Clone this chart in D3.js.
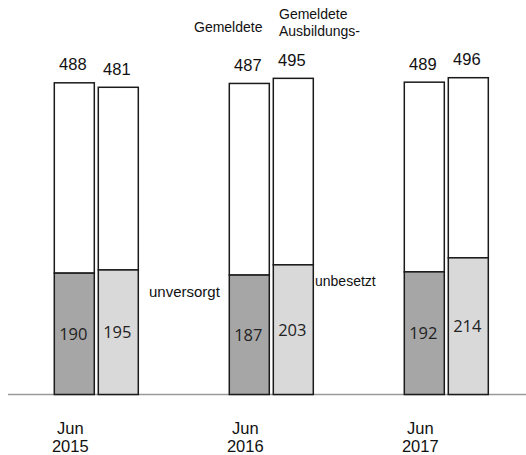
<!DOCTYPE html>
<html>
<head>
<meta charset="utf-8">
<script src="https://cdn.jsdelivr.net/npm/d3@7"></script>
<style>
  html, body { margin: 0; padding: 0; background: #fff; overflow: hidden; }
  svg { display: block; }
</style>
</head>
<body>
<script>
// ---- data ----
const years = ["2015", "2016", "2017"];
const monthLabel = "Jun";
const seriesKeys = ["bewerber", "stellen"];
const gemeldeteBewerber = [488, 487, 489];
const unversorgt = [190, 187, 192];
const gemeldeteStellen = [481, 495, 496];
const unbesetzt = [195, 203, 214];

const W = 526, H = 455;
const baseY = 394.5;
const pxPerUnit = 0.6387;

const svg = d3.select("body").append("svg").attr("width", W).attr("height", H);

const y = d3.scaleLinear().domain([0, 600]).range([baseY, baseY - 600 * pxPerUnit]);
const x0 = d3.scaleBand().domain(years).range([8.8, 533.8]).paddingInner(0.52).paddingOuter(0.26);
const x1 = d3.scaleBand().domain(seriesKeys).range([0, x0.bandwidth()]).paddingInner(4 / 44).paddingOuter(0);

const rows = [];
years.forEach((yr, i) => {
  rows.push({ year: yr, key: "bewerber", total: gemeldeteBewerber[i], part: unversorgt[i], fill: "#a6a6a6" });
  rows.push({ year: yr, key: "stellen", total: gemeldeteStellen[i], part: unbesetzt[i], fill: "#d9d9d9" });
});

// axis baseline
svg.append("line")
  .attr("x1", 8).attr("x2", W)
  .attr("y1", baseY).attr("y2", baseY)
  .attr("stroke", "#9a9a9a").attr("stroke-width", 1.5);

const g = svg.append("g");
const bx = d => x0(d.year) + x1(d.key);
const bw = x1.bandwidth();

// upper white segments
g.selectAll("rect.top").data(rows).join("rect")
  .attr("class", "top")
  .attr("x", bx).attr("width", bw)
  .attr("y", d => y(d.total))
  .attr("height", d => y(d.part) - y(d.total))
  .attr("fill", "#ffffff").attr("stroke", "#1a1a1a").attr("stroke-width", 1.5);

// lower filled segments
g.selectAll("rect.bot").data(rows).join("rect")
  .attr("class", "bot")
  .attr("x", bx).attr("width", bw)
  .attr("y", d => y(d.part))
  .attr("height", d => y(0) - y(d.part))
  .attr("fill", d => d.fill).attr("stroke", "#1a1a1a").attr("stroke-width", 1.5);

// total labels
g.selectAll("text.tot").data(rows).join("text")
  .attr("class", "tot")
  .attr("x", d => bx(d) + bw / 2 - 1.5)
  .attr("y", d => y(d.total) - 12.5)
  .attr("text-anchor", "middle")
  .attr("font-family", "Liberation Sans, Arial, sans-serif")
  .attr("font-size", 16.5)
  .attr("fill", "#111")
  .text(d => d.total);

// part labels
g.selectAll("text.part").data(rows).join("text")
  .attr("class", "part")
  .attr("x", d => bx(d) + bw / 2 - 1)
  .attr("y", d => (y(d.part) + y(0)) / 2)
  .attr("dy", "0.36em")
  .attr("text-anchor", "middle")
  .attr("font-family", "Open Sans, Lato, sans-serif")
  .attr("font-size", 16.5)
  .attr("fill", "#222")
  .text(d => d.part);

// category labels
const cat = svg.selectAll("text.cat").data(years).join("text")
  .attr("class", "cat")
  .attr("text-anchor", "middle")
  .attr("font-family", "Liberation Sans, Arial, sans-serif")
  .attr("font-size", 16.5)
  .attr("fill", "#111");
cat.append("tspan").attr("x", d => x0(d) + 16).attr("y", 434).text(monthLabel);
cat.append("tspan").attr("x", d => x0(d) + 16).attr("y", 451.5).text(d => d);

// series annotation labels
const ann = svg.append("g")
  .attr("font-family", "Liberation Sans, Arial, sans-serif")
  .attr("font-size", 14)
  .attr("fill", "#111");
ann.append("text").attr("x", 194).attr("y", 32).text("Gemeldete");
const t2 = ann.append("text");
t2.append("tspan").attr("x", 279).attr("y", 19).text("Gemeldete");
t2.append("tspan").attr("x", 279).attr("y", 35.5).text("Ausbildungs-");
ann.append("text").attr("x", 149).attr("y", 296.5).attr("font-size", 15).text("unversorgt");
ann.append("text").attr("x", 315).attr("y", 286).text("unbesetzt");
</script>
</body>
</html>
